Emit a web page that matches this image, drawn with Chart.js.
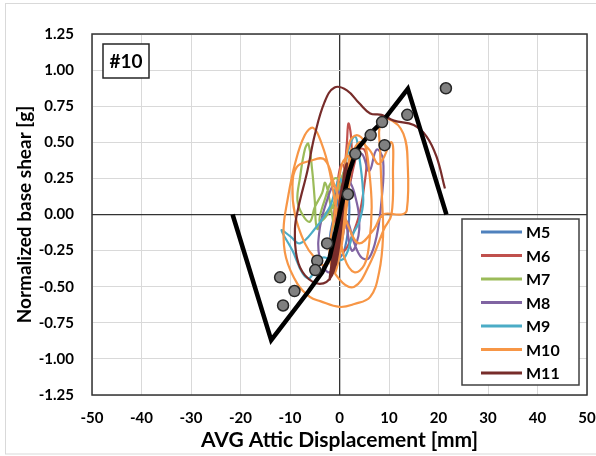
<!DOCTYPE html>
<html>
<head>
<meta charset="utf-8">
<script src="https://cdn.jsdelivr.net/npm/chart.js@4"></script>
<style>
  html, body { margin: 0; padding: 0; background: #fff; }
  #wrap { width: 596px; height: 456px; position: relative; }
</style>
</head>
<body>
<div id="wrap"><canvas id="myChart" width="596" height="456"></canvas></div>
<script>
// hysteresis traces (x = mm, y = g)
const m5X = [0, 1.5, 2.5, 1.5, -0.5, -1.5, -0.5, 1, 2, 1, -1, -2, -1, 0.5];
const m5Y = [0, 0.15, 0.3, 0.35, 0.1, -0.15, -0.3, -0.25, 0.05, 0.2, 0, -0.2, -0.3, -0.1];

const m6X = [0, 1, 1.5, 1.8, 2.3, 2.5, 2, 3, 4, 5, 5.5, 5, 4, 2.5, 1, 0, -1, -0.5, 0.5, 1.5, 1];
const m6Y = [0, 0.3, 0.5, 0.63, 0.55, 0.35, 0.2, 0.35, 0.45, 0.45, 0.38, 0.2, 0, -0.15, -0.25, -0.2, 0, 0.2, 0.35, 0.2, 0];

const m7X = [0, -1, -3, -4.5, -5, -5.5, -6.3, -7, -8, -8.5, -7.5, -6, -5, -3.5, -2.9, -2, -1, 0, 0.5, 1, -1.5, -4, -3, -1, 1.5];
const m7Y = [0, 0.05, 0, -0.1, 0.1, 0.3, 0.49, 0.45, 0.25, 0.1, 0, -0.05, 0.05, 0.15, 0.22, 0.1, -0.1, -0.2, 0.1, 0.3, 0.05, -0.05, 0.1, 0.25, 0.2];

const m8X = [0, 1.5, 3, 4.5, 6, 7.5, 8.8, 8.5, 7.5, 6, 4.5, 3, 1.5, 0, -2, -4, -4, -2.5, -1, 1, 2.5, 4, 3, 1];
const m8Y = [0, 0.25, 0.38, 0.42, 0.3, 0.45, 0.38, 0.1, -0.15, -0.3, -0.3, -0.2, -0.05, -0.25, -0.4, -0.3, -0.1, 0.1, 0.2, 0, -0.25, -0.1, 0.15, 0.3];

const m9X = [0, 1.5, 3.1, 4, 4.8, 4, 2.8, 1, -1, -3.5, -6, -7.4, -9.5, -11.7, -10, -8, -5, -2, 0, 1];
const m9Y = [0, 0.4, 0.54, 0.4, 0.1, -0.05, -0.13, -0.3, -0.32, -0.3, -0.44, -0.41, -0.25, -0.11, -0.15, -0.2, -0.1, 0.05, 0.25, 0.1];

const m10X = [0, 1, 2, 3.5, 5, 6, 6.5, 6, 5, 3, 1, 0, -1, -2, -3.5, -5.3, -7, -9, -10.5, -11.3, -10.8, -8.5, -6, -3.9, 0, 3, 6.2, 8, 8.8, 8.6, 8.2, 8.2, 10, 12.9, 13.8, 13.6, 12.5, 8.8, 7, 4, 2, -1, -3, -6, -8.6, -9.5, -9, -7, -5, -3, -1, 1, 2.5, 4, 6, 8, 10.5, 10.8, 10.5, 9, 6, 3, 0, -2, -1, 0.5, 2, 0, 1.5, -0.5, 1, 2.5, 0.5, -1, 0, 2, 1];
const m10Y = [0, 0.3, 0.5, 0.55, 0.5, 0.3, 0.05, -0.2, -0.35, -0.4, -0.3, -0.1, 0.1, 0.3, 0.48, 0.6, 0.55, 0.35, 0.1, -0.1, -0.3, -0.48, -0.57, -0.6, -0.64, -0.62, -0.57, -0.4, -0.15, 0.1, 0.45, 0.62, 0.66, 0.56, 0.33, 0.03, 0, 0, -0.1, -0.2, -0.1, 0.2, 0.38, 0.37, 0.33, 0.2, 0, -0.2, -0.3, -0.35, -0.2, 0.1, 0.4, 0.5, 0.45, 0.35, 0.5, 0.3, 0, -0.1, -0.35, -0.5, -0.45, -0.3, 0, 0.35, 0.4, -0.3, 0.3, -0.3, 0.2, 0.45, -0.2, -0.4, 0.1, 0.3, -0.1];

const m11X = [0, 1, 1.5, 0.5, -0.5, -1, 0, 1.5, 0.5, -1, -2, -1, 0.5, 1.2, 0, -0.8, 0.3, 1, -0.5, -1.5, -4, -7, -8.6, -9, -8.3, -6.5, -5, -3, -1, 1.5, 4, 6.2, 8.5, 11, 15, 17.6, 19.6, 21.3];
const m11Y = [0, 0.3, 0.35, 0, -0.3, -0.35, -0.1, 0.3, 0.1, -0.3, -0.45, -0.2, 0.2, 0.25, -0.2, -0.35, 0, 0.2, -0.25, -0.42, -0.48, -0.42, -0.3, -0.1, 0.05, 0.3, 0.55, 0.78, 0.88, 0.86, 0.77, 0.7, 0.69, 0.65, 0.62, 0.54, 0.4, 0.18];

// backbone curve and test points
const backboneX = [-21.6, -13.8, -6.2, -3.5, -2, 0, 2, 3.5, 6.2, 8.6, 13.8, 21.6];
const backboneY = [0, -0.87, -0.53, -0.4, -0.3, 0, 0.3, 0.45, 0.56, 0.64, 0.87, 0];
const dotX = [21.5, 13.7, 8.6, 6.3, 9.1, 3.2, 1.7, -2.5, -4.5, -4.9, -12, -9.1, -11.4];
const dotY = [0.874, 0.69, 0.64, 0.55, 0.48, 0.42, 0.14, -0.2, -0.32, -0.385, -0.435, -0.53, -0.63];

const seriesNames = ['M5', 'M6', 'M7', 'M8', 'M9', 'M10', 'M11'];
const seriesX = [m5X, m6X, m7X, m8X, m9X, m10X, m11X];
const seriesY = [m5Y, m6Y, m7Y, m8Y, m9Y, m10Y, m11Y];
const colors = ['#4F81BD', '#C0504D', '#9BBB59', '#8064A2', '#4BACC6', '#F79646', '#772C2A'];

const toPts = (xs, ys) => xs.map((x, i) => ({ x: x, y: ys[i] }));

const datasets = seriesNames.map((name, i) => ({
  label: name,
  data: toPts(seriesX[i], seriesY[i]),
  showLine: true,
  borderColor: colors[i],
  borderWidth: 2.2,
  pointRadius: 0,
  tension: 0.4,
  order: 8 - i,
}));
datasets.push({
  label: 'backbone',
  data: toPts(backboneX, backboneY),
  showLine: true,
  borderColor: '#000',
  borderWidth: 4.5,
  pointRadius: 0,
  tension: 0,
  order: 1,
});
datasets.push({
  label: 'tests',
  data: toPts(dotX, dotY),
  showLine: false,
  pointRadius: 5.5,
  backgroundColor: '#808080',
  borderColor: '#262626',
  borderWidth: 1.5,
  order: 0,
});

const FONT = 'Lato, "Open Sans", sans-serif';

// plot border, "#10" tag and legend box
const overlay = {
  id: 'overlay',
  beforeDraw(chart) {
    const c = chart.ctx;
    c.save();
    c.strokeStyle = '#d9d9d9';
    c.lineWidth = 1;
    c.strokeRect(5.5, 3.5, 600, 450.5);
    c.restore();
  },
  afterDatasetsDraw(chart) {
    const c = chart.ctx;
    const a = chart.chartArea;
    c.save();
    c.strokeStyle = '#333';
    c.lineWidth = 1.5;
    c.strokeRect(a.left, a.top, a.right - a.left, a.bottom - a.top);

    // tag
    c.fillStyle = '#fff';
    c.fillRect(103, 44, 46, 34);
    c.strokeStyle = '#262626';
    c.lineWidth = 1.5;
    c.strokeRect(103, 44, 46, 34);
    c.fillStyle = '#000';
    c.font = 'bold 19px ' + FONT;
    c.textAlign = 'center';
    c.textBaseline = 'middle';
    c.fillText('#10', 126, 62);

    // legend
    c.fillStyle = '#fff';
    c.fillRect(462, 219, 117, 166);
    c.strokeStyle = '#404040';
    c.lineWidth = 1.5;
    c.strokeRect(462, 219, 117, 166);
    c.font = 'bold 16px ' + FONT;
    c.textAlign = 'left';
    seriesNames.forEach((name, i) => {
      const y = 232 + i * 23.5;
      c.strokeStyle = colors[i];
      c.lineWidth = 3;
      c.beginPath();
      c.moveTo(481, y);
      c.lineTo(522, y);
      c.stroke();
      c.fillStyle = '#000';
      c.fillText(name, 526, y + 1);
    });
    c.restore();
  },
};

const gridColor = (ctx) => (ctx.tick && ctx.tick.value === 0 ? '#333' : '#d9d9d9');
const gridWidth = (ctx) => (ctx.tick && ctx.tick.value === 0 ? 1.3 : 1);

new Chart(document.getElementById('myChart'), {
  type: 'scatter',
  data: { datasets: datasets },
  plugins: [overlay],
  options: {
    responsive: false,
    animation: false,
    layout: { padding: { left: 0, right: 9, top: 34, bottom: 0 } },
    plugins: { legend: { display: false }, tooltip: { enabled: false } },
    scales: {
      x: {
        type: 'linear',
        min: -50,
        max: 50,
        border: { display: false },
        grid: { color: gridColor, lineWidth: gridWidth, drawTicks: false },
        ticks: {
          stepSize: 10,
          padding: 14,
          color: '#000',
          font: { family: FONT, size: 15, weight: 'bold' },
        },
        title: {
          display: true,
          text: 'AVG Attic Displacement [mm]',
          color: '#000',
          font: { family: FONT, size: 21, weight: 'bold' },
          padding: { top: 0, bottom: 3 },
        },
        afterFit: (s) => { s.height = 61; s.paddingLeft = 0; s.paddingRight = 0; },
      },
      y: {
        type: 'linear',
        min: -1.25,
        max: 1.25,
        border: { display: false },
        grid: { color: gridColor, lineWidth: gridWidth, drawTicks: false },
        ticks: {
          stepSize: 0.25,
          padding: 18,
          color: '#000',
          font: { family: FONT, size: 15, weight: 'bold' },
          callback: (v) => v.toFixed(2),
        },
        title: {
          display: true,
          text: 'Normalized base shear [g]',
          color: '#000',
          font: { family: FONT, size: 19, weight: 'bold' },
          padding: { top: 13, bottom: 0 },
        },
        afterFit: (s) => { s.width = 92; s.paddingTop = 0; s.paddingBottom = 0; },
      },
    },
  },
});
</script>
</body>
</html>
